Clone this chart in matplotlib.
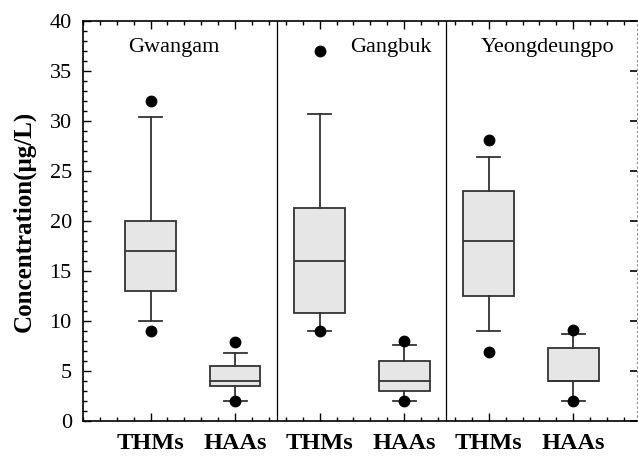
import matplotlib
matplotlib.use("Agg")
import matplotlib.pyplot as plt
from matplotlib.ticker import MultipleLocator

plt.rcParams['font.family'] = ['Liberation Serif', 'DejaVu Serif']

sites = ["Gwangam", "Gangbuk", "Yeongdeungpo"]
groups = ["THMs", "HAAs", "THMs", "HAAs", "THMs", "HAAs"]
positions = [1, 2, 3, 4, 5, 6]

# box statistics
whis_lo = [10.0, 2.0, 9.0, 2.0, 9.0, 2.0]
q1 = [13.0, 3.5, 10.8, 3.0, 12.5, 4.0]
med = [17.0, 4.0, 16.0, 4.0, 18.0, 4.0]
q3 = [20.0, 5.5, 21.3, 6.0, 23.0, 7.3]
whis_hi = [30.4, 6.8, 30.7, 7.6, 26.4, 8.7]
fliers = [[9.0, 32.0], [2.0, 7.9], [9.0, 37.0], [2.0, 8.0], [6.9, 28.1], [2.0, 9.05]]

stats = []
for i in range(len(positions)):
    stats.append(dict(whislo=whis_lo[i], q1=q1[i], med=med[i], q3=q3[i],
                      whishi=whis_hi[i], fliers=fliers[i]))

fig = plt.figure(figsize=(6.38, 4.59), dpi=100)
ax = fig.add_axes([0.130, 0.083, 0.868, 0.8715])

edge = '#333333'
ax.bxp(stats, positions=positions, widths=0.6, capwidths=0.27, patch_artist=True,
       boxprops=dict(facecolor='#e6e6e6', edgecolor=edge, linewidth=1.3),
       medianprops=dict(color=edge, linewidth=1.3),
       whiskerprops=dict(color=edge, linewidth=1.3),
       capprops=dict(color=edge, linewidth=1.3),
       flierprops=dict(marker='o', markerfacecolor='black', markeredgecolor='black',
                       markersize=7.5))

# separators between sites
for xs in [2.5, 4.5]:
    ax.axvline(xs, color='black', linewidth=0.9)

site_x = [1.28, 3.84, 5.69]
for name, xt in zip(sites, site_x):
    ax.text(xt, 37.3, name, ha='center', va='center', fontsize=16)

ax.set_xlim(0.2, 6.75)
ax.set_ylim(0, 40)
ax.set_xticks(positions)
ax.set_xticklabels(groups, fontsize=17.5, fontweight='bold')
ax.xaxis.set_minor_locator(MultipleLocator(0.2))
ax.yaxis.set_major_locator(MultipleLocator(5))
ax.yaxis.set_minor_locator(MultipleLocator(1))
ax.tick_params(axis='both', which='both', direction='in', top=True, right=False)
ax.tick_params(axis='both', which='major', length=6, width=1)
ax.tick_params(axis='both', which='minor', length=3, width=1)
ax.tick_params(axis='x', which='major', pad=9)
ax.tick_params(axis='y', labelsize=16, pad=8)

ax.spines['right'].set_linestyle((0, (1, 3)))
ax.spines['right'].set_color('#888888')
for s in ['left', 'top', 'bottom']:
    ax.spines[s].set_linewidth(1.2)

# right side major ticks drawn by a twin axis
ax2 = ax.twinx()
ax2.set_ylim(0, 40)
ax2.yaxis.set_major_locator(MultipleLocator(5))
ax2.tick_params(axis='y', direction='in', length=5, width=1.2, labelright=False)
for s in ax2.spines.values():
    s.set_visible(False)

ax.set_ylabel("Concentration(\u03bcg/L)", fontsize=18, fontweight='bold', labelpad=10)

fig.savefig("out.png", dpi=100)
